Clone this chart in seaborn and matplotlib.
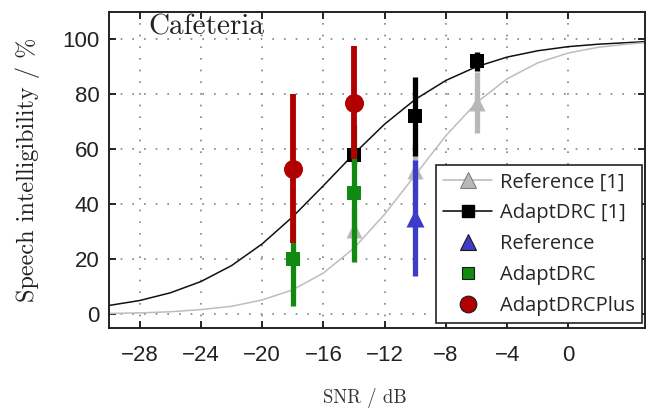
import numpy as np
import pandas as pd
import matplotlib
matplotlib.use("Agg")
import matplotlib.pyplot as plt
from matplotlib.lines import Line2D
import seaborn as sns

# ---- data ----
snr_curve = [-30, -28, -26, -24, -22, -20, -18, -16, -14, -12, -10, -8, -6, -4, -2, 0, 2, 4, 5]
ref1_curve = [0.3, 0.5, 0.9, 1.7, 2.9, 5.2, 8.9, 15.0, 24.1, 36.4, 50.7, 65.0, 77.0, 85.7, 91.5, 95.1, 97.2, 98.4, 98.8]
adapt1_curve = [3.2, 5.0, 7.8, 11.9, 17.7, 25.6, 35.5, 46.8, 58.4, 69.2, 78.2, 85.1, 90.1, 93.6, 95.9, 97.4, 98.3, 98.9, 99.2]

ref1_snr = [-14, -10, -6]
ref1_val = [30.7, 52.0, 77.0]
ref1_err = [8.0, 10.0, 11.0]

adapt1_snr = [-14, -10, -6]
adapt1_val = [57.8, 72.0, 92.0]
adapt1_err = [3.0, 14.5, 3.5]

ref_snr = [-10]
ref_val = [35.0]
ref_err = [21.0]

adapt_snr = [-18, -14]
adapt_val = [20.0, 44.0]
adapt_err = [17.0, 24.8]

plus_snr = [-18, -14]
plus_val = [53.0, 77.0]
plus_err = [27.0, 20.5]

x_ticks = [-28, -24, -20, -16, -12, -8, -4, 0]
y_ticks = [0, 20, 40, 60, 80, 100]

sns.set_style("white")
plt.rcParams["font.family"] = ["Liberation Sans", "DejaVu Sans"]

fig = plt.figure(figsize=(6.49, 4.08), dpi=100)
ax = fig.add_axes([109 / 649, 1 - 328 / 408, 536 / 649, 316 / 408])

curves = pd.DataFrame({"snr": snr_curve, "ref1": ref1_curve, "adapt1": adapt1_curve})
sns.lineplot(data=curves, x="snr", y="adapt1", color="#111111", linewidth=1.1, ax=ax, zorder=2)
sns.lineplot(data=curves, x="snr", y="ref1", color="#bdbdbd", linewidth=1.1, ax=ax, zorder=2)


def series(xs, vals, errs, color, marker, msize, lw, z):
    lo = [v - e for v, e in zip(vals, errs)]
    hi = [v + e for v, e in zip(vals, errs)]
    ax.vlines(xs, lo, hi, colors=color, linewidth=lw, zorder=z)
    sns.scatterplot(x=xs, y=vals, color=color, marker=marker, s=msize ** 2,
                    edgecolor=color, linewidth=0, ax=ax, zorder=z + 0.5)


series(ref1_snr, ref1_val, ref1_err, "#b8b8b8", "^", 11.5, 3.8, 3)
series(adapt1_snr, adapt1_val, adapt1_err, "#000000", "s", 9.6, 3.8, 4)
series(ref_snr, ref_val, ref_err, "#3c3cc8", "^", 13, 3.8, 5)
series(adapt_snr, adapt_val, adapt_err, "#108a10", "s", 10.5, 3.8, 6)
series(plus_snr, plus_val, plus_err, "#b00000", "o", 13.7, 4.2, 7)

ax.set_xlim(-30, 5)
ax.set_ylim(-5, 110)
ax.set_xticks(x_ticks)
ax.set_yticks(y_ticks)
ax.set_xticklabels([("\u2212" + str(-t)) if t < 0 else str(t) for t in x_ticks])
ax.tick_params(axis="both", which="both", direction="in", length=5, width=1.2,
               top=True, right=True, bottom=True, left=True, labelsize=16, colors="#000000")
ax.tick_params(axis="x", pad=12)
ax.tick_params(axis="y", pad=7)
for lab in ax.get_xticklabels() + ax.get_yticklabels():
    lab.set_color("#222222")

ax.grid(True, linestyle=(0, (1, 6)), color="#808080", linewidth=1.2, zorder=0)
ax.set_axisbelow(True)
for sp in ax.spines.values():
    sp.set_color("#222222")
    sp.set_linewidth(1.4)
    sp.set_visible(True)

ax.set_xlabel("SNR / dB", family="cmr10", fontsize=13.5, color="#333333", va="top")
ax.xaxis.set_label_coords(0.478, -0.19)
ax.set_ylabel("Speech intelligibility / %", family="cmr10", fontsize=17.5, color="#222222")
ax.yaxis.set_label_coords(-0.128, 0.5)

ax.text(0.073, 0.95, "Cafeteria", transform=ax.transAxes, family="cmr10", fontsize=21,
        ha="left", va="center", color="#222222", zorder=10)

handles = [
    Line2D([0], [0], color="#b8b8b8", linewidth=1.1, marker="^", markersize=12,
           markerfacecolor="#b8b8b8", markeredgecolor="#808080", markeredgewidth=0.8),
    Line2D([0], [0], color="#000000", linewidth=1.1, marker="s", markersize=9,
           markerfacecolor="#000000"),
    Line2D([0], [0], color="none", marker="^", markersize=12,
           markerfacecolor="#3c3cc8", markeredgecolor="#1a1a1a", markeredgewidth=0.8),
    Line2D([0], [0], color="none", marker="s", markersize=9,
           markerfacecolor="#108a10", markeredgecolor="#1a1a1a", markeredgewidth=0.8),
    Line2D([0], [0], color="none", marker="o", markersize=12,
           markerfacecolor="#b00000", markeredgecolor="#1a1a1a", markeredgewidth=0.8),
]
labels = ["Reference [1]", "AdaptDRC [1]", "Reference", "AdaptDRC", "AdaptDRCPlus"]
leg = ax.legend(handles, labels, loc="lower right", bbox_to_anchor=(0.994, 0.016),
                borderaxespad=0, frameon=True, fancybox=False, framealpha=1,
                edgecolor="#222222", prop={"family": "Open Sans", "size": 14.5},
                handlelength=2.4, handletextpad=0.4, labelspacing=0.54, borderpad=0.35)
leg.get_frame().set_linewidth(1.2)
leg.set_zorder(20)

fig.savefig("out.png", dpi=100)
